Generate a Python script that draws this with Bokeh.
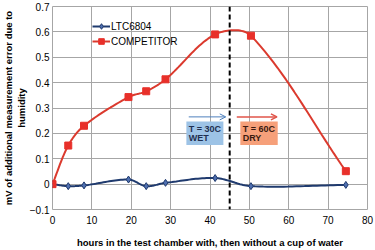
from bokeh.plotting import figure
from bokeh.models import Span, Arrow, OpenHead, BoxAnnotation, Label, Legend, LegendItem, FixedTicker, Title
from bokeh.embed import file_html
from bokeh.resources import INLINE
import numpy as np

hours = [0, 4, 8, 19.3, 23.8, 28.7, 41.3, 50.4, 74.5]
ltc6804 = [0.0, -0.008, -0.005, 0.018, -0.008, 0.005, 0.024, -0.008, -0.003]
competitor = [0.0, 0.152, 0.23, 0.343, 0.366, 0.413, 0.59, 0.585, 0.051]
x_ticks = [0, 10, 20, 30, 40, 50, 60, 70, 80]
y_ticks = [-0.1, 0, 0.1, 0.2, 0.3, 0.4, 0.5, 0.6, 0.7]
switch_hour = 45
y_title = ["mV of additional measurement error due to", "humidity"]


def smooth(xs, ys, n=24, kx=3.94, ky=260.0):
    # smoothed line rendering (Bezier through the points, chord-weighted tangents)
    P = np.column_stack([np.asarray(xs, float) * kx, np.asarray(ys, float) * ky])
    out = []
    for i in range(len(P) - 1):
        p0 = P[i - 1] if i > 0 else P[i]
        p1 = P[i]
        p2 = P[i + 1]
        p3 = P[i + 2] if i + 2 < len(P) else P[i + 1]
        d01 = np.hypot(*(p1 - p0))
        d12 = np.hypot(*(p2 - p1))
        d23 = np.hypot(*(p3 - p2))
        c1 = p1 + (p2 - p0) * (d12 / (d01 + d12)) / 3.0 if d01 > 0 else p1 + (p2 - p1) / 3.0
        c2 = p2 - (p3 - p1) * (d12 / (d12 + d23)) / 3.0 if d23 > 0 else p2 - (p2 - p1) / 3.0
        t = np.linspace(0, 1, n)[:, None]
        seg = ((1 - t) ** 3) * p1 + 3 * ((1 - t) ** 2) * t * c1 + 3 * (1 - t) * t ** 2 * c2 + t ** 3 * p2
        out.append(seg if i == 0 else seg[1:])
    S = np.vstack(out)
    return S[:, 0] / kx, S[:, 1] / ky


p = figure(width=375, height=250, output_backend="svg", toolbar_location=None,
           x_range=(0, 80), y_range=(-0.1, 0.7),
           min_border_left=52, min_border_right=8, min_border_top=6, min_border_bottom=35)
p.background_fill_color = "white"
p.border_fill_color = "white"
p.outline_line_color = "#A6A6A6"
p.outline_line_width = 1

for ax in (p.xaxis, p.yaxis):
    ax.axis_line_color = None
    ax.major_tick_line_color = None
    ax.minor_tick_line_color = None
    ax.major_tick_out = 0
    ax.major_tick_in = 0
    ax.minor_tick_out = 0
    ax.minor_tick_in = 0
    ax.major_label_text_font = "Liberation Sans"
    ax.major_label_text_font_size = "10px"
    ax.major_label_text_color = "#000000"
    ax.axis_label_text_font = "Liberation Sans"
    ax.axis_label_text_font_size = "9.5px"
    ax.axis_label_text_font_style = "bold"
    ax.axis_label_text_color = "#000000"

p.xaxis.ticker = FixedTicker(ticks=x_ticks)
p.yaxis.ticker = FixedTicker(ticks=y_ticks)
p.yaxis.major_label_overrides = {0: "0"}
p.xaxis.axis_label = "hours in the test chamber with, then without a cup of water"
p.xaxis.major_label_standoff = 6
p.yaxis.major_label_standoff = 3
p.xaxis.axis_label_standoff = 10

# y-axis title as two stacked side titles (inner line first)
for txt in reversed(y_title):
    p.add_layout(Title(text=txt, align="center", text_font="Liberation Sans", text_font_size="9.5px",
                       text_font_style="bold", text_color="#000000", standoff=0, offset=-11), "left")

p.xgrid.grid_line_color = "#A6A6A6"
p.ygrid.grid_line_color = "#A6A6A6"
p.xgrid.ticker = FixedTicker(ticks=x_ticks)
p.ygrid.ticker = FixedTicker(ticks=y_ticks)

red = "#DB3A2E"
navy = "#1F3A6E"

sx, sy = smooth(hours, ltc6804)
l1 = p.line(sx, sy, line_color=navy, line_width=2)
m1 = p.scatter(hours, ltc6804, marker="diamond", size=7, fill_color="#4F6FB0", line_color=navy, line_width=1)

sx2, sy2 = smooth(hours, competitor)
l2 = p.line(sx2, sy2, line_color=red, line_width=2)
m2 = p.scatter(hours, competitor, marker="square", size=7, fill_color="#E8302A", line_color="#E8302A")

p.add_layout(Span(location=switch_hour, dimension="height", line_color="black",
                  line_width=2, line_dash="5 3"))

# annotations
p.add_layout(BoxAnnotation(left=34.0, right=43.4, bottom=0.154, top=0.247,
                           fill_color="#9DC3E6", fill_alpha=1, line_color=None))
p.add_layout(BoxAnnotation(left=47.7, right=57.2, bottom=0.154, top=0.247,
                           fill_color="#F6A07A", fill_alpha=1, line_color=None))
p.add_layout(Arrow(end=OpenHead(size=6, line_color="#4F81BD", line_width=1),
                   x_start=34.6, y_start=0.265, x_end=44.0, y_end=0.265,
                   line_color="#4F81BD", line_width=1))
p.add_layout(Arrow(end=OpenHead(size=6, line_color="#E0554A", line_width=1.5),
                   x_start=46.8, y_start=0.265, x_end=57.0, y_end=0.265,
                   line_color="#E0554A", line_width=1.5))
for xx, t1, t2, col in [(34.6, "T = 30C", "WET", "#1F2F4F"), (48.3, "T = 60C", "DRY", "#3A1A10")]:
    p.add_layout(Label(x=xx, y=0.218, text=t1, text_font="Liberation Sans", text_font_size="9px",
                       text_font_style="bold", text_color=col, text_baseline="middle"))
    p.add_layout(Label(x=xx, y=0.18, text=t2, text_font="Liberation Sans", text_font_size="9px",
                       text_font_style="bold", text_color=col, text_baseline="middle"))

legend = Legend(items=[LegendItem(label="LTC6804", renderers=[l1, m1]),
                       LegendItem(label="COMPETITOR", renderers=[l2, m2])],
                location=(40, 161))
legend.background_fill_alpha = 0
legend.border_line_color = None
legend.label_text_font = "Liberation Sans"
legend.label_text_font_size = "10px"
legend.label_text_color = "#000000"
legend.glyph_width = 18
legend.glyph_height = 14
legend.label_height = 14
legend.spacing = 1
legend.padding = 2
legend.label_standoff = 1
p.add_layout(legend)

open("out.html", "w").write(file_html(p, INLINE))
